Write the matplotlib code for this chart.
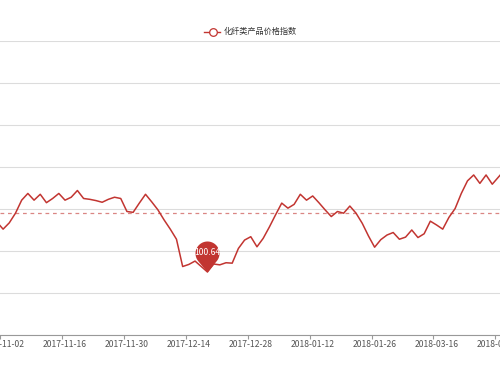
import numpy as np
import matplotlib
matplotlib.use('Agg')
import matplotlib.pyplot as plt
from matplotlib.lines import Line2D
from matplotlib.path import Path

plt.rcParams['font.family'] = ['Noto Sans CJK SC', 'DejaVu Sans']

# 化纤类产品价格指数, daily values (index -1 and 81 sit just outside the cropped view)
series_name = '化纤类产品价格指数'
index_values = [
    101.83,
    101.66, 101.81, 102.04, 102.35, 102.51, 102.35, 102.49, 102.29, 102.39, 102.51,
    102.35, 102.42, 102.58, 102.39, 102.37, 102.34, 102.30, 102.37, 102.42, 102.39,
    102.08, 102.06, 102.28, 102.49, 102.31, 102.12, 101.88, 101.66, 101.42, 100.77,
    100.82, 100.90, 100.77, 100.64, 100.83, 100.81, 100.86, 100.85, 101.20, 101.40,
    101.48, 101.24, 101.44, 101.71, 102.00, 102.28, 102.16, 102.25, 102.49, 102.35,
    102.45, 102.29, 102.12, 101.96, 102.08, 102.04, 102.21, 102.04, 101.80, 101.50,
    101.23, 101.41, 101.52, 101.58, 101.42, 101.47, 101.64, 101.46, 101.55, 101.85,
    101.76, 101.66, 101.94, 102.15, 102.51, 102.81, 102.95, 102.75, 102.95, 102.73,
    102.90, 103.07,
]
first_index = -1
tick_labels = ['2017-11-02', '2017-11-16', '2017-11-30', '2017-12-14', '2017-12-28',
               '2018-01-12', '2018-01-26', '2018-03-16', '2018-03-30']
label_step = 10
avg_value = 102.05      # average mark line (whole series, partly outside the view)
min_value = 100.64

line_color = '#c23531'

x = np.arange(first_index, first_index + len(index_values))
y = np.array(index_values)

fig = plt.figure(figsize=(5, 3.75), dpi=100)
ax = fig.add_axes([0.0, 0.1075, 1.0, 0.784])

ymin = min_value - 62.7 / 42
ax.set_ylim(ymin, ymin + 7)
ax.set_xlim(-0.275, 80.25)
ax.set_yticks(ymin + np.arange(8))
ax.yaxis.grid(True, color='#dcdcdc', linewidth=0.8)
ax.set_axisbelow(True)
ax.tick_params(axis='y', left=False, labelleft=False)

for side in ['left', 'right', 'top']:
    ax.spines[side].set_visible(False)
ax.spines['bottom'].set_color('#999999')
ax.spines['bottom'].set_linewidth(0.8)

label_pos = np.arange(len(tick_labels)) * label_step
ax.set_xticks(label_pos)
ax.set_xticklabels(tick_labels, fontsize=6.2, color='#555555')
ax.tick_params(axis='x', which='major', length=0, pad=4)
ax.set_xticks(label_pos - 0.5, minor=True)
ax.tick_params(axis='x', which='minor', length=3, color='#999999', width=0.8)

ax.plot(x, y, color=line_color, linewidth=1.1, zorder=3)
ax.axhline(avg_value, color=line_color, alpha=0.6, linewidth=0.9,
           linestyle=(0, (3, 3)), zorder=2)

# pin marker at the minimum
c, r = 19.0, 12.0
phi = np.arccos(r / c)
ang = np.linspace(-np.pi / 2 + phi, 3 * np.pi / 2 - phi, 60)
verts = [(0, 0)] + [(r * np.cos(a), c + r * np.sin(a)) for a in ang] + [(0, 0)]
pin = Path(verts, [Path.MOVETO] + [Path.LINETO] * (len(verts) - 2) + [Path.CLOSEPOLY])
imin = int(np.argmin(y))
ms = 2 * (c + r) * 72 / 100
ax.plot(x[imin], y[imin], marker=pin, markersize=ms, color=line_color,
        markeredgewidth=0, zorder=4, clip_on=False)
ax.annotate(f'{min_value:.2f}', (x[imin], y[imin]), xytext=(0, c * 72 / 100),
            textcoords='offset points', ha='center', va='center',
            fontsize=6.2, color='white', zorder=5)

# legend
ly = 1 - 31.7 / 375
fig.add_artist(Line2D([204 / 500, 220 / 500], [ly, ly], color=line_color, linewidth=1.0))
fig.add_artist(Line2D([212.5 / 500], [ly], marker='o', markersize=5.5,
                      markerfacecolor='white', markeredgecolor=line_color,
                      markeredgewidth=0.9))
fig.text(224 / 500, ly, series_name, fontsize=5.9, color='#333333',
         ha='left', va='center')

fig.savefig('out.png', dpi=100)
